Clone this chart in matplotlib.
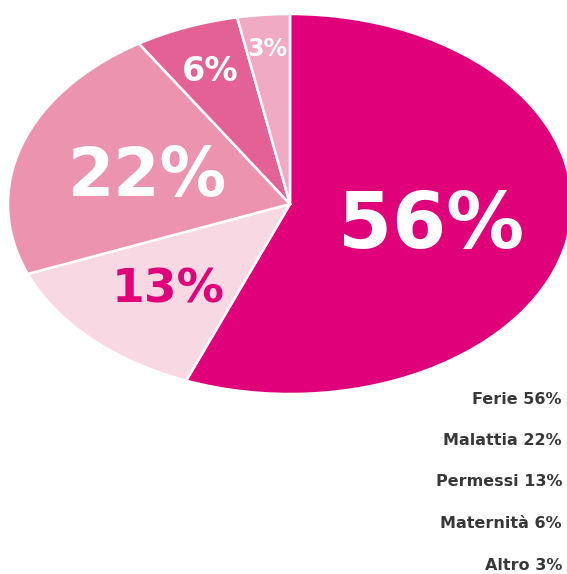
"""Ripartizione delle assenze per causa: torta ellittica con etichette percentuali."""

import numpy as np
import matplotlib

matplotlib.use("Agg")
import matplotlib.pyplot as plt

categories = ["Ferie", "Permessi", "Malattia", "Maternità", "Altro"]
shares = [56, 13, 22, 6, 3]
colors = ["#e0007a", "#f8d9e3", "#ec93b0", "#e46195", "#f0aac4"]
label_colors = ["white", "#e0007a", "white", "white", "white"]
label_sizes = [56, 34, 48, 24, 17]
label_radius = [0.51, 0.61, 0.53, 0.77, 0.84]
legend_order = ["Ferie", "Malattia", "Permessi", "Maternità", "Altro"]

plt.rcParams["font.family"] = ["DejaVu Sans"]

W, H = 567, 574
fig = plt.figure(figsize=(W / 100, H / 100), dpi=100)
ax = fig.add_axes([0, 0, 1, 1])

wedges, _ = ax.pie(shares, colors=colors, startangle=90, counterclock=False,
                   radius=1.0, wedgeprops=dict(edgecolor="white", linewidth=1.8))

# stretch the unit circle into the wide ellipse (pixel geometry of the canvas)
cx, cy, rx, ry = 290, 204, 282, 190
ax.set_aspect("auto")
ax.set_xlim(-cx / rx, (W - cx) / rx)
ax.set_ylim((cy - H) / ry, cy / ry)
ax.axis("off")

dy = -4 / ry  # nudge labels down a few pixels
for w, v, c, s, r in zip(wedges, shares, label_colors, label_sizes, label_radius):
    ang = np.deg2rad((w.theta1 + w.theta2) / 2)
    ax.text(r * np.cos(ang), r * np.sin(ang) + dy, f"{v}%", color=c, fontsize=s,
            fontweight="bold", ha="center", va="center")

vals = dict(zip(categories, shares))
for i, name in enumerate(legend_order):
    fig.text(562 / W, 1 - (399 + i * 41.5) / H, f"{name} {vals[name]}%",
             color="#383838", fontsize=11.5, fontweight="bold",
             ha="right", va="center")

fig.savefig("out.png", dpi=100)
